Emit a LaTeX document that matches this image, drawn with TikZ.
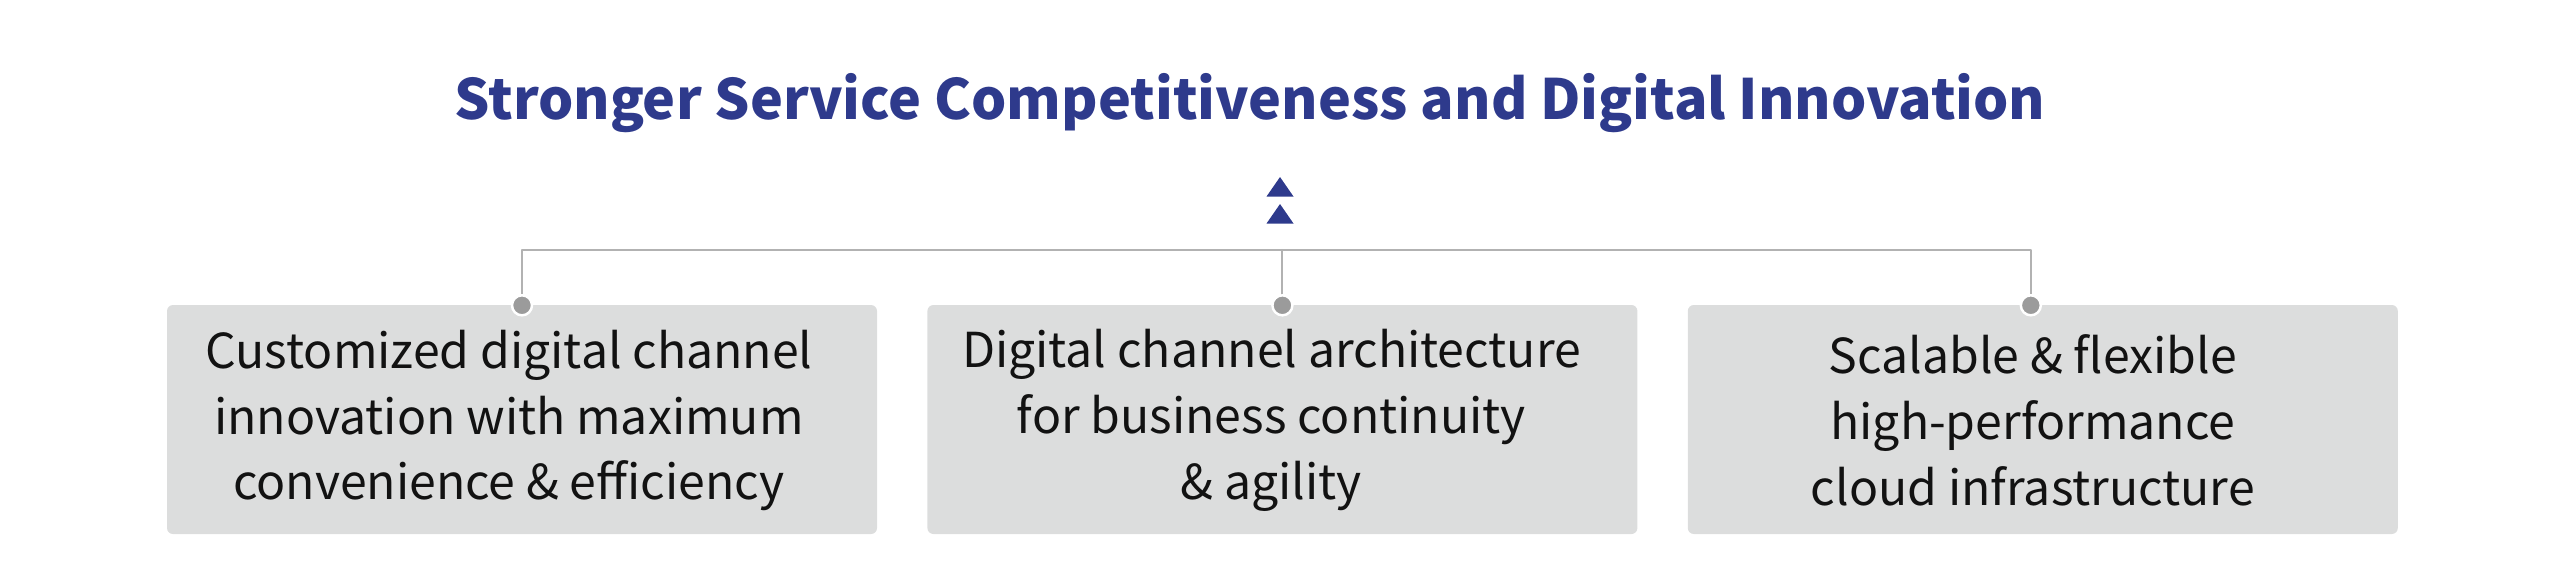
\documentclass[tikz,border=0pt]{standalone}
\usepackage{fontspec}
\setmainfont{Noto Sans CJK KR}
\usetikzlibrary{positioning}
\definecolor{navy}{RGB}{46,58,140}
\definecolor{panelgray}{RGB}{220,221,221}
\definecolor{wiregray}{RGB}{178,178,178}
\definecolor{dotgray}{RGB}{155,155,155}
\begin{document}
\begin{tikzpicture}[line join=round, line cap=round,
		panel/.style={fill=panelgray, rounded corners=0.06cm, minimum width=7.10cm, minimum height=2.29cm, inner sep=0pt},
		paneltext/.style={align=center, text=black!93, font=\fontsize{13.7}{18.7}\selectfont},
		knob/.style={circle, fill=dotgray, draw=white, line width=0.7pt, minimum size=0.2cm, inner sep=0pt},
		wire/.style={wiregray, line width=0.6pt}]
	\useasboundingbox (0,0) rectangle (25.6,-5.82);
	\node[font=\bfseries\fontsize{15.8}{20}\selectfont, text=navy] (title) at (12.50,-1.03) {Stronger Service Competitiveness and Digital Innovation};
	\foreach \y in {1.77,2.04} \fill[navy] (12.80,-\y) -- ++(0.135,-0.195) -- ++(-0.27,0) -- cycle;
	% panels
	\node[panel] (b1) at (5.22,-4.195) {};
	\node[panel, right=0.49cm of b1] (b2) {};
	\node[panel, right=0.49cm of b2] (b3) {};
	\node[paneltext] (t1) at ([xshift=-0.13cm,yshift=-0.01cm]b1.center) {Customized digital channel\\innovation with maximum\\convenience \& efficiency};
	\node[paneltext] (t2) at ([xshift=-0.11cm,yshift=-0.01cm]b2.center) {Digital channel architecture\\for business continuity\\\& agility};
	\node[paneltext] (t3) at ([xshift=-0.10cm,yshift=-0.01cm]b3.center) {Scalable \& flexible\\high-performance\\cloud infrastructure};
	% connectors
	\coordinate (bus) at (12.80,-2.50);
	\coordinate (k1) at ([yshift=-0.01cm]b1.north);
	\coordinate (k2) at ([yshift=-0.01cm]b2.north);
	\coordinate (k3) at ([xshift=-0.12cm,yshift=-0.01cm]b3.north);
	\draw[wire] (k1) -- (k1 |- bus) -- (k3 |- bus) -- (k3);
	\draw[wire] (k2) -- (k2 |- bus);
	\foreach \k in {k1,k2,k3} \node[knob] (dot-\k) at (\k) {};
\end{tikzpicture}
\end{document}
